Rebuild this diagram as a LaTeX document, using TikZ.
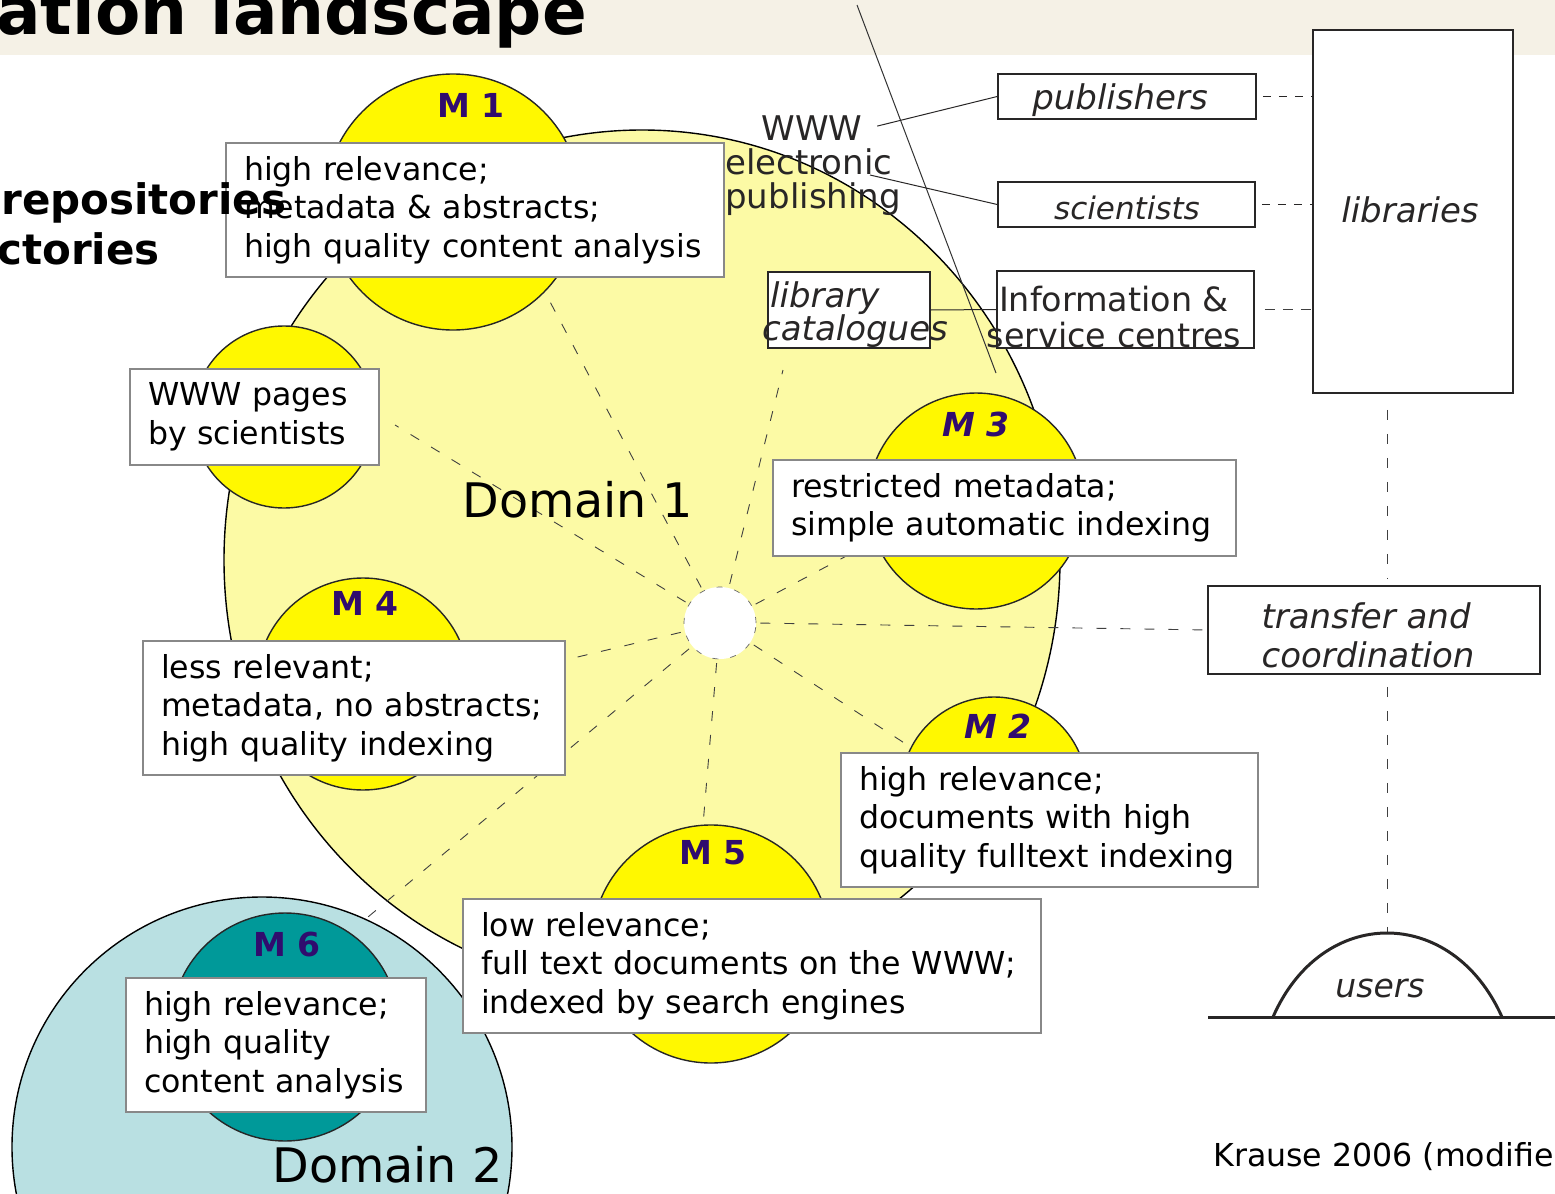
\documentclass[tikz,border=0pt]{standalone}
\usepackage{fontspec}
\setmainfont{DejaVu Sans}
\usetikzlibrary{positioning}

\definecolor{domyellow}{RGB}{252,250,165}
\definecolor{myellow}{RGB}{255,248,0}
\definecolor{mteal}{RGB}{0,153,153}
\definecolor{domblue}{RGB}{185,224,226}
\definecolor{mlabel}{RGB}{48,12,110}
\definecolor{bandcol}{RGB}{245,241,230}
\definecolor{boxgray}{RGB}{136,136,136}
\definecolor{inkgray}{RGB}{40,38,38}

\newcommand{\bodyfont}{\fontsize{15.8}{19.25}\selectfont}
\newcommand{\sidefont}{\fontsize{17}{17.5}\selectfont}
\newcommand{\mfont}{\fontsize{16.5}{20}\selectfont\bfseries}
\newcommand{\domfont}{\fontsize{23.8}{28}\selectfont}

\tikzset{
  mcirc/.style={circle, draw=black!85, line width=0.7pt, fill=myellow, inner sep=0pt, minimum size=#1},
  mtext/.style={font=\mfont, text=mlabel},
  infobox/.style={draw=boxgray, line width=1pt, fill=white, anchor=north west, align=left, inner xsep=9pt, font=\bodyfont},
  sidebox/.style={draw=inkgray, line width=0.8pt, fill=white, inner sep=0pt},
  sidetext/.style={font=\sidefont\itshape, text=inkgray},
  ray/.style={dash pattern=on 5pt off 7pt, line width=0.45pt, draw=black!75},
  linkdash/.style={dash pattern=on 4pt off 4pt, line width=0.8pt, draw=inkgray},
}

\begin{document}
\begin{tikzpicture}[x=0.5pt, y=-0.5pt]
    \useasboundingbox (0,0) rectangle (1555,1194);

    \fill[bandcol] (0,0) rectangle (1555,55);
    \node[anchor=base west, inner sep=0pt, font=\fontsize{33}{36}\selectfont\bfseries] (title) at (-4,34) {ation landscape};

    \draw[fill=domyellow, line width=0.7pt] (642,560) ellipse [x radius=209pt, y radius=215pt];
    \node[circle, draw=black, line width=0.7pt, fill=domblue, inner sep=0pt, minimum size=250pt] (dom2) at (262,1147) {};

    \node[mcirc=91pt] (c0) at (284,417) {};
    \node[mcirc=128pt] (c1) at (453,202) {};
    \node[mcirc=108pt] (c3) at (976,501) {};
    \node[mcirc=106pt] (c4) at (363,684) {};
    \node[mcirc=93pt] (c2) at (994,790) {};
    \node[mcirc=119pt] (c5) at (711,944) {};
    \node[mcirc=114pt, fill=mteal] (c6) at (285,1027) {};

    \coordinate (d1) at (857,5);
    \coordinate (d2) at (996,373);
    \draw[line width=0.5pt, black!80] (d1) -- (d2);

    \node[circle, fill=white, draw=black!60, dash pattern=on 3pt off 6pt, line width=0.35pt, inner sep=0pt, minimum size=36pt] (hub) at (720,623) {};
    \coordinate (toM1) at (548,298);
    \coordinate (toCat) at (783,370);
    \coordinate (toM3) at (852,553);
    \coordinate (toM2) at (912,748);
    \coordinate (toM5) at (703,825);
    \coordinate (toDom2) at (362,922);
    \coordinate (toM4) at (565,660);
    \coordinate (toWWW) at (395,425);
    \foreach \t in {toM1,toCat,toM3,toM2,toM5,toDom2,toM4,toWWW} {
        \draw[ray, shorten <=2pt] (hub) -- (\t);
    }

    \node[infobox, text width=231pt, minimum height=67pt] (b1) at (225,142) {high relevance;\\metadata \& abstracts;\\high quality content analysis};
    \node[infobox, text width=106.5pt, minimum height=48pt] (b0) at (129,368) {WWW pages\\by scientists};
    \node[infobox, text width=193pt, minimum height=67pt] (b4) at (142,640) {less relevant;\\metadata, no abstracts;\\high quality indexing};
    \node[infobox, text width=213.5pt, minimum height=48pt] (b3) at (772,459) {restricted metadata;\\simple automatic indexing};
    \node[infobox, text width=190.5pt, minimum height=67pt] (b2) at (840,752) {high relevance;\\documents with high\\quality fulltext indexing};
    \node[infobox, text width=271pt, minimum height=67pt] (b5) at (462,898) {low relevance;\\full text documents on the WWW;\\indexed by search engines};
    \node[infobox, text width=132pt, minimum height=67pt] (b6) at (125,977) {high relevance;\\high quality\\content analysis};

    \node[mtext] at (471,105) {M 1};
    \node[mtext, font=\mfont\itshape] at (976,424) {M 3};
    \node[mtext] at (365,603) {M 4};
    \node[mtext, font=\mfont\itshape] at (998,726) {M 2};
    \node[mtext] at (713,853) {M 5};
    \node[mtext] at (287,944) {M 6};

    \node[anchor=base west, inner sep=0pt, font=\domfont] (dlab1) at (462,517) {Domain 1};
    \node[anchor=base west, inner sep=0pt, font=\domfont] (dlab2) at (272,1182) {Domain 2};

    \node[anchor=base west, inner sep=0pt, font=\fontsize{21}{24}\selectfont\bfseries] (repo) at (1,214) {repositories};
    \node[anchor=base west, inner sep=0pt, font=\fontsize{21}{24}\selectfont\bfseries] (dirs) at (-3,264) {ctories};

    \node[sidebox, minimum width=100pt, minimum height=181.5pt] (lib) at (1413,211.5) {};
    \node[sidetext] at (1410,210) {libraries};
    \node[sidebox, minimum width=129pt, minimum height=22.5pt] (pub) at (1127,96.5) {};
    \node[sidetext] at (1120,100) {publishers};
    \node[sidebox, minimum width=128.5pt, minimum height=22.5pt] (sci) at (1126.5,204.5) {};
    \node[sidetext, font=\fontsize{15.5}{16}\selectfont\itshape] at (1127,208) {scientists};
    \node[sidebox, minimum width=81pt, minimum height=38pt] (lcat) at (849,310) {};
    \node[sidetext, align=left, inner sep=0pt, font=\fontsize{17}{16.5}\selectfont\itshape] at (855,315) {\hspace*{4pt}library\\catalogues};
    \node[sidebox, minimum width=128.5pt, minimum height=38.5pt] (info) at (1125.5,309.5) {};
    \node[align=center, inner sep=0pt, text=inkgray, font=\fontsize{16.7}{18}\selectfont] at (1114,317) {Information \&\\service centres};
    \node[sidebox, minimum width=166pt, minimum height=44pt] (trans) at (1374,630) {};
    \node[sidetext, align=left, inner sep=0pt, font=\fontsize{17}{19.5}\selectfont\itshape] at (1368,635) {transfer and\\coordination};

    \node[font=\sidefont, text=inkgray] (www) at (812,128) {WWW};
    \node[anchor=north west, align=left, inner sep=0pt, text=inkgray, font=\fontsize{17}{17}\selectfont] (epub) at (725,148) {electronic\\publishing};
    \coordinate (epubtip) at (870,175);

    \draw[line width=0.5pt, inkgray, shorten <=4pt] (www.east) -- (pub.west);
    \draw[line width=0.5pt, inkgray] (epubtip) -- (sci.west);
    \draw[line width=0.5pt, inkgray] (lcat.east) -- (info.west);
    \draw[linkdash, shorten <=3pt] (pub.east) -- (pub.east -| lib.west);
    \draw[linkdash, shorten <=3pt] (sci.east) -- (sci.east -| lib.west);
    \draw[ray, dash pattern=on 5pt off 4pt, shorten <=5pt] (info.east) -- (info.east -| lib.west);
    \draw[ray, shorten <=2pt] (hub.east) -- (trans.west);

    \coordinate (peak) at (1387,933);
    \coordinate (groundL) at (1208,1017);
    \coordinate (groundR) at (1560,1017);
    \coordinate (archL) at (1273,1017);
    \coordinate (archR) at (1502,1017);
    \draw[ray, shorten <=8pt, shorten >=3pt] (lib.south -| peak) -- (trans.north -| peak);
    \draw[ray, shorten <=6pt] (trans.south -| peak) -- (peak);
    \draw[line width=1.5pt, inkgray] (groundL) -- (groundR);
    \draw[line width=1.5pt, inkgray] (archL) .. controls (1322,905) and (1452,905) .. (archR);
    \node[sidetext, font=\fontsize{16.5}{18}\selectfont\itshape] (users) at (1380,988) {users};

    \node[anchor=base west, inner sep=0pt, font=\fontsize{15.8}{18}\selectfont] (cite) at (1213,1166) {Krause 2006 (modifie};
\end{tikzpicture}
\end{document}
